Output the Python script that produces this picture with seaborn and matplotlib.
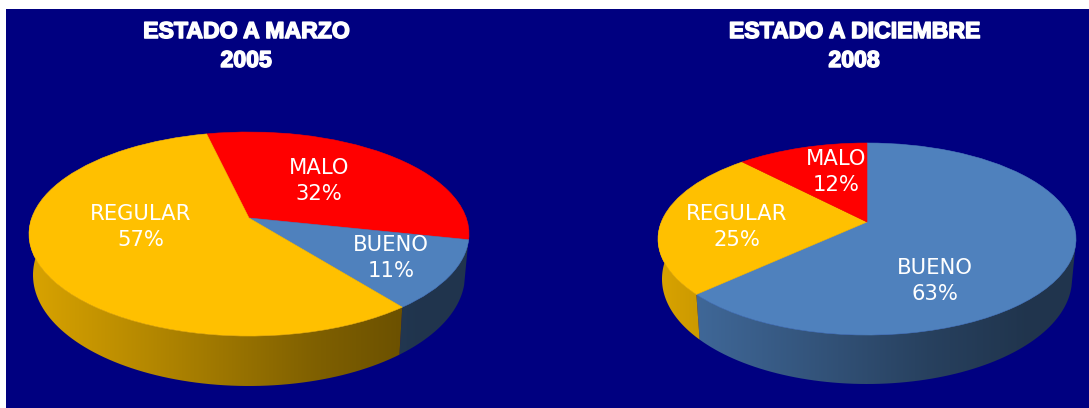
import numpy as np
import matplotlib
matplotlib.use("Agg")
import matplotlib.pyplot as plt
import matplotlib.patheffects as pe
import seaborn as sns
from matplotlib.patches import PathPatch, Rectangle
from matplotlib.path import Path
from matplotlib.transforms import Transform

# Condition shares per survey date
categories_2005 = ["MALO", "BUENO", "REGULAR"]
values_2005 = [32, 11, 57]
categories_2008 = ["BUENO", "REGULAR", "MALO"]
values_2008 = [63, 25, 12]
title_2005 = "ESTADO A MARZO\n2005"
title_2008 = "ESTADO A DICIEMBRE\n2008"

W, H = 1089, 408
NAVY = "#000080"
palette = dict(zip(["BUENO", "REGULAR", "MALO"],
                   sns.color_palette(["#4F81BD", "#FFC000", "#FF0000"])))

sns.set_theme(style="white")
plt.rcParams["font.family"] = ["DejaVu Sans"]


class Tilt(Transform):
    """Projective tilt of the unit disc, giving a receding ellipse."""
    input_dims = output_dims = 2
    is_separable = False
    has_inverse = False

    def __init__(self, a, b, k, dy=0.0):
        super().__init__()
        self.a, self.b, self.k, self.dy = a, b, k, dy

    def transform_non_affine(self, xy):
        xy = np.asarray(xy, dtype=float)
        w = 1 + self.k * xy[:, 1]
        return np.column_stack((self.a * xy[:, 0] / w,
                                self.b * xy[:, 1] / w + self.dy))


def tilt_for(rx, up, down, dy=0.0):
    k = (down - up) / (down + up)
    return Tilt(rx * np.sqrt(1 - k * k), down * (1 - k), k, dy)


def wall_shade(t):
    return np.interp(t, [0.0, 0.25, 0.65, 0.88, 1.0], [0.85, 0.72, 0.50, 0.41, 0.41])


def draw_pie(px_box, apex, top, bottom, cats, vals, start, title, title_xy, labels):
    x0, x1 = px_box
    ax = fig.add_axes([x0 / W, 0, (x1 - x0) / W, (H - 9) / H])
    ax_x = apex[0]
    ax_y = apex[1]
    top_tilt = tilt_for(*top)
    base_tilt = tilt_for(*bottom)

    wedges, _ = ax.pie(vals, colors=[palette[c] for c in cats], startangle=start,
                       counterclock=False,
                       wedgeprops=dict(linewidth=0.4, zorder=5))
    for wedge, cat in zip(wedges, cats):
        wedge.set_edgecolor(palette[cat])
        wedge.set_transform(top_tilt + ax.transData)

    # Side wall of each slice: front rim swept down to the base rim, shaded left to right
    xs = np.linspace(-top[0], top[0], 256)
    shade = wall_shade((xs + top[0]) / (2 * top[0]))
    for wedge, cat in zip(wedges, cats):
        lo, hi = max(wedge.theta1, -180), min(wedge.theta2, -14)
        if hi <= lo:
            continue
        th = np.radians(np.linspace(lo, hi, 80))
        disc = np.column_stack((np.cos(th), np.sin(th)))
        rim = top_tilt.transform_non_affine(disc)
        base = base_tilt.transform_non_affine(disc)[::-1]
        outline = Path(np.vstack((rim, base, rim[:1])), closed=True)
        rgb = np.outer(shade, palette[cat])[np.newaxis, :, :]
        im = ax.imshow(rgb, extent=(xs[0], xs[-1], -H, H), aspect="auto",
                       interpolation="bilinear", zorder=2)
        im.set_clip_path(PathPatch(outline, transform=ax.transData))

    ax.set_aspect("auto")
    ax.set_xlim(x0 - ax_x, x1 - ax_x)
    ax.set_ylim(ax_y - H, ax_y - 9)
    ax.axis("off")

    ax.text(title_xy[0] - ax_x, ax_y - title_xy[1], title, color="white", ha="center",
            va="center", fontsize=16.6, fontweight="bold", linespacing=1.33,
            family="Liberation Sans", zorder=8,
            path_effects=[pe.withStroke(linewidth=1.1, foreground="white")])
    for cat, val, (lx, ly) in zip(cats, vals, labels):
        ax.text(lx - ax_x, ax_y - ly, f"{cat}\n{val}%", color="white", ha="center",
                va="center", fontsize=15.2, linespacing=1.42, zorder=8)


fig = plt.figure(figsize=(W / 100, H / 100), dpi=100, facecolor="white")
fig.add_artist(Rectangle((6 / W, 0), 1 - 6 / W, (H - 9) / H, transform=fig.transFigure,
                         facecolor=NAVY, edgecolor="none", zorder=-1))

draw_pie((6, 560), (249, 218), (220, 86, 118), (216, 93.6, 128.4, -39.6),
         categories_2005, values_2005, 103, title_2005, (246, 46),
         [(319, 181), (391, 258), (141, 227)])
draw_pie((560, W), (867, 222), (209, 79, 113), (205, 86.4, 123.6, -38.4),
         categories_2008, values_2008, 90, title_2008, (854, 46),
         [(935, 281), (737, 227), (836, 172)])

fig.savefig("out.png", dpi=100, facecolor=fig.get_facecolor())
